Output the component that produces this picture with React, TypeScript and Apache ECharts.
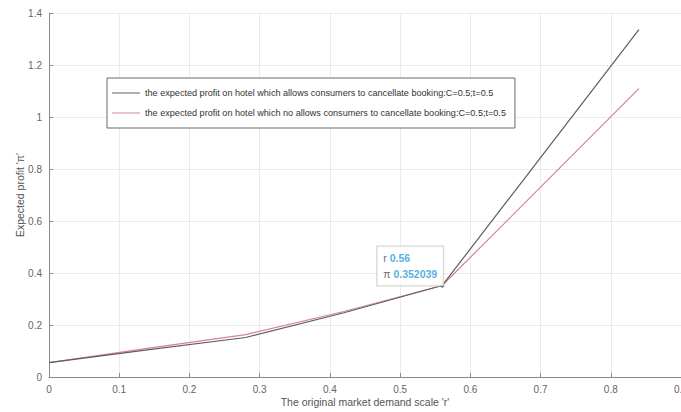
import React, { useEffect, useRef } from "react";
import * as echarts from "echarts";

const rValues = [0, 0.14, 0.28, 0.42, 0.56, 0.7, 0.84];
const profitCancel = [0.055, 0.104, 0.152, 0.247, 0.352, 0.844, 1.336];
const profitNoCancel = [0.055, 0.11, 0.163, 0.252, 0.352, 0.73, 1.109];
const tipPoint = [0.56, 0.352039];
const xTicks = { min: 0, max: 0.9, interval: 0.1 };
const yTicks = { min: 0, max: 1.4, interval: 0.2 };
const nameCancel =
  "the expected profit on hotel which allows consumers to cancellate booking:C=0.5;t=0.5";
const nameNoCancel =
  "the expected profit on hotel which no allows consumers to cancellate booking:C=0.5;t=0.5";

export default function App() {
  const ref = useRef<HTMLDivElement>(null);
  useEffect(() => {
    if (!ref.current) return;
    const chart = echarts.init(ref.current, null, { renderer: "svg" });
    const font = "'Liberation Sans', Arial, Helvetica, sans-serif";
    const axisCommon = {
      axisLine: { show: true, lineStyle: { color: "#8a8a8a", width: 1 } },
      axisTick: { show: true, inside: true, length: 4, lineStyle: { color: "#8a8a8a" } },
      splitLine: { show: true, lineStyle: { color: "#ebebeb", width: 1 } },
      axisLabel: { color: "#666", fontSize: 10, fontFamily: font, margin: 7 },
      nameTextStyle: { color: "#555", fontSize: 10.5, fontFamily: font },
      nameMoveOverlap: false,
    };
    chart.setOption({
      animation: false,
      backgroundColor: "#fff",
      textStyle: { fontFamily: font },
      grid: { left: 49, right: 0, top: 13, bottom: 35, containLabel: false, outerBoundsMode: "none" },
      legend: {
        orient: "vertical",
        left: 107,
        top: 78,
        padding: [9, 9, 9, 5],
        itemGap: 8,
        itemWidth: 28,
        itemHeight: 1,
        icon: "rect",
        borderColor: "#6a6a6a",
        borderWidth: 1,
        backgroundColor: "#fff",
        textStyle: { color: "#333", fontSize: 9.1, fontFamily: font, height: 12, lineHeight: 12 },
        data: [nameCancel, nameNoCancel],
      },
      xAxis: {
        type: "value",
        min: xTicks.min,
        max: xTicks.max,
        interval: xTicks.interval,
        name: "The original market demand scale 'r'",
        nameLocation: "middle",
        nameGap: 19,
        ...axisCommon,
      },
      yAxis: {
        type: "value",
        min: yTicks.min,
        max: yTicks.max,
        interval: yTicks.interval,
        name: "Expected profit 'π'",
        nameLocation: "middle",
        nameGap: 24,
        ...axisCommon,
      },
      series: [
        {
          name: nameCancel,
          type: "line",
          symbol: "none",
          data: rValues.map((r, i) => [r, profitCancel[i]]),
          lineStyle: { color: "#5e5e5e", width: 1.2 },
          itemStyle: { color: "#5e5e5e" },
          z: 3,
        },
        {
          name: nameNoCancel,
          type: "line",
          symbol: "none",
          data: rValues.map((r, i) => [r, profitNoCancel[i]]),
          lineStyle: { color: "#d6848e", width: 1.2 },
          itemStyle: { color: "#d6848e" },
          z: 2,
        },
        {
          name: "tip",
          type: "scatter",
          data: [tipPoint],
          symbol: "circle",
          symbolSize: 4,
          itemStyle: { color: "#111" },
          z: 5,
          label: {
            show: true,
            position: [-63, -37],
            formatter: () =>
              `{k|r }{v|${tipPoint[0]}}\n{k|π }{v|${tipPoint[1]}}`,
            backgroundColor: "#fff",
            borderColor: "#c8c8c8",
            borderWidth: 1,
            padding: [4, 6, 3, 6],
            rich: {
              k: { color: "#444", fontSize: 10.5, fontFamily: font, lineHeight: 16 },
              v: { color: "#2a9ad6", fontSize: 10.5, fontWeight: "bold", fontFamily: font, lineHeight: 16 },
            },
          },
        },
      ],
    });
    return () => chart.dispose();
  }, []);
  return (
    <div
      ref={ref}
      style={{ position: "fixed", left: 0, top: 0, width: 681, height: 412, background: "#fff" }}
    />
  );
}
